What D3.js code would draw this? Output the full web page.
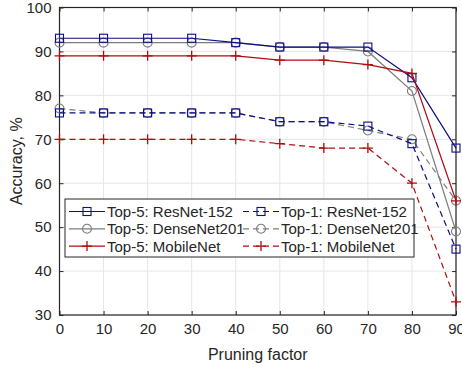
<!DOCTYPE html>
<html>
<head>
<meta charset="utf-8">
<script src="https://cdn.jsdelivr.net/npm/d3@7"></script>
<style>
	body { margin: 0; background: #fff; }
	svg text { font-family: "Liberation Sans", Arial, sans-serif; fill: #262626; }
</style>
</head>
<body>
<div id="chart"></div>
<script>
// data
var pruning = [0, 10, 20, 30, 40, 50, 60, 70, 80, 90];
var top5ResNet = [93, 93, 93, 93, 92, 91, 91, 91, 84, 68];
var top5DenseNet = [92, 92, 92, 92, 92, 91, 91, 90, 81, 49];
var top5MobileNet = [89, 89, 89, 89, 89, 88, 88, 87, 85, 56];
var top1ResNet = [76, 76, 76, 76, 76, 74, 74, 73, 69, 45];
var top1DenseNet = [77, 76, 76, 76, 76, 74, 74, 72, 70, 56];
var top1MobileNet = [70, 70, 70, 70, 70, 69, 68, 68, 60, 33];
var xTicks = [0, 10, 20, 30, 40, 50, 60, 70, 80, 90];
var yTicks = [30, 40, 50, 60, 70, 80, 90, 100];

var blue = '#0c0c86', gray = '#7c7c7c', red = '#b00c0c';

var series = [
	{ name: 'Top-5: ResNet-152', values: top5ResNet, color: blue, marker: 'square', dash: null },
	{ name: 'Top-5: DenseNet201', values: top5DenseNet, color: gray, marker: 'circle', dash: null },
	{ name: 'Top-5: MobileNet', values: top5MobileNet, color: red, marker: 'plus', dash: null },
	{ name: 'Top-1: ResNet-152', values: top1ResNet, color: blue, marker: 'square', dash: '6,4' },
	{ name: 'Top-1: DenseNet201', values: top1DenseNet, color: gray, marker: 'circle', dash: '6,4' },
	{ name: 'Top-1: MobileNet', values: top1MobileNet, color: red, marker: 'plus', dash: '6,4' }
];

var W = 462, H = 368;
var padding = { top: 7.5, right: 6, bottom: 53, left: 59.5 };
var width = W - padding.left - padding.right;
var height = H - padding.top - padding.bottom;

var x = d3.scaleLinear().domain([0, 90]).range([0, width]);
var y = d3.scaleLinear().domain([30, 100]).range([height, 0]);

var svg = d3.select('#chart').append('svg')
	.attr('width', W)
	.attr('height', H)
	.append('g')
	.attr('transform', 'translate(' + padding.left + ',' + padding.top + ')');

// grid
svg.append('g').selectAll('line').data(xTicks).enter().append('line')
	.attr('x1', d => x(d)).attr('x2', d => x(d))
	.attr('y1', 0).attr('y2', height)
	.attr('stroke', '#e6e6e6').attr('stroke-width', 1);
svg.append('g').selectAll('line').data(yTicks).enter().append('line')
	.attr('y1', d => y(d)).attr('y2', d => y(d))
	.attr('x1', 0).attr('x2', width)
	.attr('stroke', '#e6e6e6').attr('stroke-width', 1);

// axes, ticks pointing inward on all four sides
var axisColor = '#262626';
function styleAxis(g) {
	g.select('.domain').remove();
	g.selectAll('.tick line').attr('stroke', axisColor);
	g.selectAll('.tick text').attr('font-size', 15).style('fill', axisColor);
}
svg.append('g').attr('transform', 'translate(0,' + height + ')')
	.call(d3.axisBottom(x).tickValues(xTicks).tickSize(-4).tickPadding(8))
	.call(styleAxis);
svg.append('g')
	.call(d3.axisLeft(y).tickValues(yTicks).tickSize(-4).tickPadding(8))
	.call(styleAxis);
svg.append('g')
	.call(d3.axisTop(x).tickValues(xTicks).tickSize(-4).tickFormat(''))
	.call(styleAxis);
svg.append('g').attr('transform', 'translate(' + width + ',0)')
	.call(d3.axisRight(y).tickValues(yTicks).tickSize(-4).tickFormat(''))
	.call(styleAxis);
svg.append('rect')
	.attr('width', width).attr('height', height)
	.attr('fill', 'none').attr('stroke', axisColor).attr('stroke-width', 1.2);

// markers
function drawMarker(g, type, color) {
	if (type === 'square') {
		g.append('rect').attr('x', -4).attr('y', -4).attr('width', 8).attr('height', 8)
			.attr('fill', 'none').attr('stroke', color).attr('stroke-width', 1.1);
	} else if (type === 'circle') {
		g.append('circle').attr('r', 4.5)
			.attr('fill', 'none').attr('stroke', color).attr('stroke-width', 1.1);
	} else {
		g.append('path').attr('d', 'M-5,0H5M0,-5V5')
			.attr('fill', 'none').attr('stroke', color).attr('stroke-width', 1.3);
	}
}

var line = d3.line()
	.x((d, i) => x(pruning[i]))
	.y(d => y(d));

var drawOrder = [4, 3, 5, 1, 0, 2];
drawOrder.forEach(function (k) {
	var s = series[k];
	svg.append('path')
		.datum(s.values)
		.attr('d', line)
		.attr('fill', 'none')
		.attr('stroke', s.color)
		.attr('stroke-width', 1.2)
		.attr('stroke-dasharray', s.dash);
	s.values.forEach(function (v, i) {
		var m = svg.append('g').attr('transform', 'translate(' + x(pruning[i]) + ',' + y(v) + ')');
		drawMarker(m, s.marker, s.color);
	});
});

// legend
var legend = svg.append('g').attr('transform', 'translate(' + (65 - padding.left) + ',' + (199 - padding.top) + ')');
legend.append('rect')
	.attr('width', 349).attr('height', 58)
	.attr('fill', '#fff').attr('stroke', axisColor).attr('stroke-width', 1);
series.forEach(function (s, i) {
	var col = Math.floor(i / 3), row = i % 3;
	var gx = col === 0 ? 4 : 178;
	var gy = 12.5 + row * 17.3;
	var item = legend.append('g').attr('transform', 'translate(' + gx + ',' + gy + ')');
	item.append('line')
		.attr('x1', 0).attr('x2', 36).attr('y1', 0).attr('y2', 0)
		.attr('stroke', s.color).attr('stroke-width', 1.2)
		.attr('stroke-dasharray', s.dash);
	var m = item.append('g').attr('transform', 'translate(18,0)');
	drawMarker(m, s.marker, s.color);
	item.append('text')
		.attr('x', 38).attr('y', 5.5)
		.attr('font-size', 15)
		.text(s.name);
});

// axis labels
svg.append('text')
	.attr('x', width / 2).attr('y', height + 45)
	.attr('text-anchor', 'middle')
	.attr('font-size', 16)
	.text('Pruning factor');
svg.append('text')
	.attr('transform', 'translate(' + (-38) + ',' + (height / 2) + ') rotate(-90)')
	.attr('text-anchor', 'middle')
	.attr('font-size', 16)
	.text('Accuracy, %');
</script>
</body>
</html>
